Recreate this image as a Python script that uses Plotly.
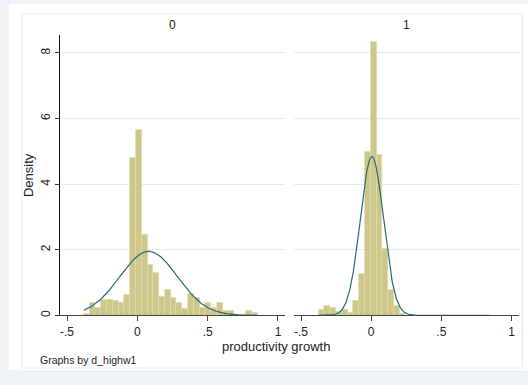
import numpy as np
import plotly.graph_objects as go

W, H = 528, 385

# ---- data ----
panel_labels = ["0", "1"]
bin_width = 0.0412
bin_start = [-0.381, -0.374]
density_0 = [0.05, 0.39, 0.23, 0.48, 0.48, 0.43, 0.39, 0.63, 4.79, 5.64,
             2.45, 1.54, 1.31, 0.56, 0.78, 0.54, 0.39, 0.20, 0.66, 0.54,
             0.23, 0.39, 0.23, 0.39, 0.14, 0.14, 0.03, 0.03, 0.14, 0.07]
density_1 = [0.17, 0.29, 0.22, 0.10, 0.17, 0.07, 0.45, 1.27, 4.99, 8.34,
             4.88, 2.03, 0.77, 0.29, 0.05]
normal_mean = [0.08, 0.005]
normal_sd = [0.2046, 0.0824]
curve_lo = [-0.381, -0.374]
curve_hi = [0.855, 0.84]
x_ticks = [-0.5, 0, 0.5, 1]
x_tick_labels = ["-.5", "0", ".5", "1"]
y_ticks = [0, 2, 4, 6, 8]
y_tick_labels = ["0", "2", "4", "6", "8"]
x_title = "productivity growth"
y_title = "Density"
note = "Graphs by d_highw1"

BAR = "rgb(205,199,138)"
BAR_EDGE = "rgb(222,218,172)"
CURVE = "#22706e"
GRID = "#e4ecef"
FONT = "Liberation Sans, Arial, sans-serif"


def px(x):
    return x / W


def py(y):
    return 1 - y / H


fig = go.Figure()
densities = [density_0, density_1]
for i in range(2):
    d = densities[i]
    centers = [bin_start[i] + bin_width * (k + 0.5) for k in range(len(d))]
    xa = "x" if i == 0 else "x2"
    ya = "y" if i == 0 else "y2"
    fig.add_trace(go.Bar(x=centers, y=d, width=bin_width, xaxis=xa, yaxis=ya,
                         marker=dict(color=BAR, line=dict(color=BAR_EDGE, width=0.7)),
                         showlegend=False, hoverinfo="skip"))
    xs = np.linspace(curve_lo[i], curve_hi[i], 400)
    ys = np.exp(-0.5 * ((xs - normal_mean[i]) / normal_sd[i]) ** 2) / (normal_sd[i] * np.sqrt(2 * np.pi))
    fig.add_trace(go.Scatter(x=xs, y=ys, mode="lines", xaxis=xa, yaxis=ya,
                             line=dict(color=CURVE, width=1.2), showlegend=False,
                             hoverinfo="skip"))

ydom = [py(317), py(35)]
xrange_ = [-0.55, 1.05]
common_x = dict(range=xrange_, tickvals=x_ticks, ticktext=x_tick_labels,
                showline=True, linecolor="#444", linewidth=1,
                ticks="outside", ticklen=5, tickcolor="#444", tickwidth=1,
                showgrid=False, zeroline=False,
                tickfont=dict(family=FONT, size=12, color="#222"))


def ann(text, x, y, size, **kw):
    d = dict(text=text, x=px(x), y=py(y), xref="paper", yref="paper",
             xanchor="center", yanchor="middle", showarrow=False,
             font=dict(size=size, family=FONT, color="#222"))
    d.update(kw)
    return d


fig.update_layout(
    width=W, height=H,
    margin=dict(l=0, r=0, t=0, b=0),
    paper_bgcolor="#eff3f5",
    plot_bgcolor="white",
    bargap=0,
    font=dict(family=FONT, color="#222"),
    xaxis=dict(domain=[px(60), px(285)], anchor="y", **common_x),
    xaxis2=dict(domain=[px(294), px(518.5)], anchor="y2", **common_x),
    yaxis=dict(domain=ydom, range=[0, 8.55], anchor="x", tickvals=y_ticks,
               ticktext=y_tick_labels, tickangle=-90,
               showline=True, linecolor="#111", linewidth=1,
               ticks="outside", ticklen=4, tickcolor="#333",
               showgrid=True, gridcolor=GRID, gridwidth=1, zeroline=False,
               tickfont=dict(family=FONT, size=12, color="#222")),
    yaxis2=dict(domain=ydom, range=[0, 8.55], anchor="x2", tickvals=y_ticks,
                showticklabels=False, showline=False, ticks="",
                showgrid=True, gridcolor=GRID, gridwidth=1, zeroline=False),
    shapes=[
        dict(type="rect", xref="paper", yref="paper", x0=px(8), x1=px(530),
             y0=py(373), y1=py(3), fillcolor="white", line=dict(color="#e6edf0", width=1),
             layer="below"),
        dict(type="rect", xref="paper", yref="paper", x0=px(22), x1=px(522.5),
             y0=py(370), y1=py(14), fillcolor="rgba(0,0,0,0)",
             line=dict(color="#e4ecef", width=1), layer="below"),
    ],
    annotations=[
        ann(panel_labels[0], 172.5, 25, 12),
        ann(panel_labels[1], 406, 25, 12),
        ann(x_title, 276, 348, 13),
        ann(y_title, 28, 176, 13, textangle=-90),
        ann(note, 38, 362, 10.5, xanchor="left"),
    ],
)

fig.write_html(
    "out.html",
    config={"displayModeBar": False},
    post_script="document.body.style.margin='0';document.body.style.padding='0';"
                "document.body.style.overflow='hidden';",
)
